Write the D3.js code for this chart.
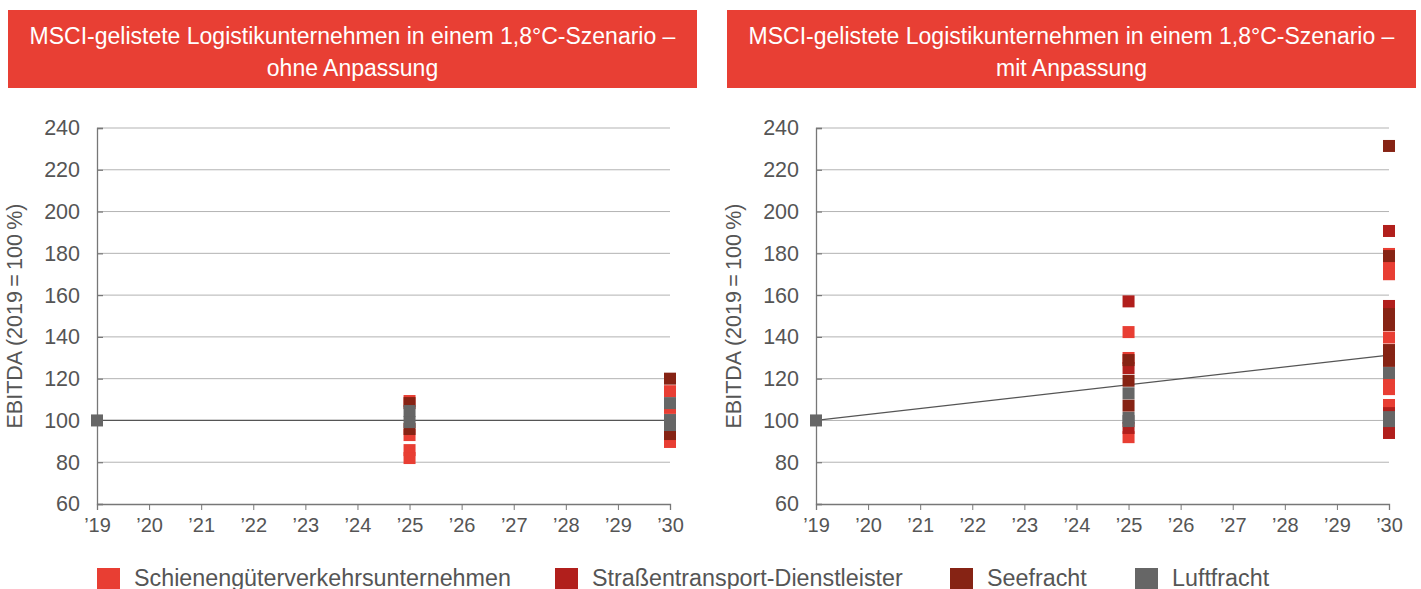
<!DOCTYPE html>
<html><head><meta charset="utf-8">
<script src="https://cdn.jsdelivr.net/npm/d3@7"></script>
<style>
html,body{margin:0;padding:0;background:#fff;}
svg{display:block;font-family:"Liberation Sans",Arial,sans-serif;}
</style></head>
<body><svg id="c" width="1421" height="589"></svg>
<script>
// ---- data ----
const years = [2019,2020,2021,2022,2023,2024,2025,2026,2027,2028,2029,2030];
const yTicks = [60,80,100,120,140,160,180,200,220,240];
const seriesNames = ["Schienengüterverkehrsunternehmen","Straßentransport-Dienstleister","Seefracht","Luftfracht"];
const seriesColors = ["#e83e33","#b11f1c","#862314","#666666"];
const titles = [
  ["MSCI-gelistete Logistikunternehmen in einem 1,8°C-Szenario –","ohne Anpassung"],
  ["MSCI-gelistete Logistikunternehmen in einem 1,8°C-Szenario –","mit Anpassung"]
];
const yAxisTitle = "EBITDA (2019\u2009=\u2009100\u2009%)";
const basePoint = [2019, 100];
// trend lines: values at 2019 and 2030
const trendOhne = [100, 100];
const trendMit = [100, 131.3];

// ohne Anpassung: values at 2025 and 2030 per series
const ohneSchiene2025 = [109.3, 93, 85.8, 82];
const ohneSchiene2030 = [114, 106, 89.7];
const ohneStrasse2025 = [];
const ohneStrasse2030 = [];
const ohneSee2025 = [108.3, 95.9];
const ohneSee2030 = [120, 93.5];
const ohneLuft2025 = [104.5, 99.2];
const ohneLuft2030 = [108.3, 100.2, 97.8];

// mit Anpassung
const mitSchiene2025 = [142.3, 129.9, 92];
const mitSchiene2030 = [179.7, 173, 170, 139.7, 117, 115, 107.4];
const mitStrasse2025 = [157, 125.1, 96.4];
const mitStrasse2030 = [190.7, 154.8, 103.5, 94];
const mitSee2025 = [128.9, 119, 107.1];
const mitSee2030 = [231.4, 178.7, 150.9, 145.7, 133.7, 128.5];
const mitLuft2025 = [113, 101.2, 99.7];
const mitLuft2030 = [122.7, 101.6, 99.7];

function pts(a25, a30){ return a25.map(v=>[2025,v]).concat(a30.map(v=>[2030,v])); }
const panels = [
  {title: titles[0], trend: trendOhne, series: [
    pts(ohneSchiene2025, ohneSchiene2030), pts(ohneStrasse2025, ohneStrasse2030),
    pts(ohneSee2025, ohneSee2030), pts(ohneLuft2025, ohneLuft2030)]},
  {title: titles[1], trend: trendMit, series: [
    pts(mitSchiene2025, mitSchiene2030), pts(mitStrasse2025, mitStrasse2030),
    pts(mitSee2025, mitSee2030), pts(mitLuft2025, mitLuft2030)]}
];

// ---- layout ----
const svg = d3.select("#c");
const panelLayout = [
  {boxX: 8, plotX0: 97, plotX1: 670},
  {boxX: 727, plotX0: 816, plotX1: 1389}
];
const boxW = 689, boxY = 10, boxH = 78;
const plotTop = 128, plotBottom = 504;
const mk = 12;
const textCol = "#555";
const ff = "Liberation Sans, Arial, sans-serif";

panels.forEach((p, i) => {
  const L = panelLayout[i];
  const g = svg.append("g");
  // title box
  g.append("rect").attr("x", L.boxX).attr("y", boxY).attr("width", boxW).attr("height", boxH).attr("fill", "#e83f34");
  p.title.forEach((t, k) => {
    g.append("text").attr("x", L.boxX + boxW/2).attr("y", 44 + k*32)
      .attr("text-anchor","middle").attr("fill","#fff").attr("font-size", 23).text(t);
  });
  const x = d3.scaleLinear().domain([2019,2030]).range([L.plotX0, L.plotX1]);
  const y = d3.scaleLinear().domain([60,240]).range([plotBottom, plotTop]);

  // gridlines
  g.append("g").selectAll("line").data(yTicks.filter(v=>v>60)).join("line")
    .attr("x1", L.plotX0).attr("x2", L.plotX1).attr("y1", d=>y(d)).attr("y2", d=>y(d))
    .attr("stroke", "#b3b3b3").attr("stroke-width", 1);

  // y axis (ticks point inward)
  const ya = g.append("g").attr("transform", `translate(${L.plotX0},0)`)
    .call(d3.axisLeft(y).tickValues(yTicks).tickSize(-6).tickPadding(17));
  ya.select(".domain").attr("stroke","#777").attr("stroke-width",1.3);
  ya.selectAll(".tick line").attr("stroke","#777").attr("stroke-width",1.2);
  ya.selectAll("text").attr("font-size", 21.5).attr("fill", textCol).attr("font-family", ff);

  // x axis
  const xa = g.append("g").attr("transform", `translate(0,${plotBottom})`)
    .call(d3.axisBottom(x).tickValues(years).tickSize(6).tickPadding(8)
      .tickFormat(d => "\u2019" + String(d).slice(2)));
  xa.select(".domain").attr("stroke","#777").attr("stroke-width",1.3);
  xa.selectAll(".tick line").attr("stroke","#777");
  xa.selectAll("text").attr("font-size", 20).attr("fill", textCol).attr("font-family", ff);

  // y axis title
  g.append("text").attr("transform", `translate(${L.plotX0 - 75},316) rotate(-90)`)
    .attr("text-anchor","middle").attr("font-size", 21.5).attr("fill", textCol).text(yAxisTitle);

  // trend line
  g.append("line").attr("x1", x(2019)).attr("x2", x(2030))
    .attr("y1", y(p.trend[0])).attr("y2", y(p.trend[1]))
    .attr("stroke", "#555").attr("stroke-width", 1.2);

  // markers
  p.series.forEach((s, si) => {
    g.append("g").selectAll("rect").data(s).join("rect")
      .attr("x", d => x(d[0]) - mk/2).attr("y", d => y(d[1]) - mk/2)
      .attr("width", mk).attr("height", mk).attr("fill", seriesColors[si]);
  });
  // base point
  g.append("rect").attr("x", x(basePoint[0]) - mk/2).attr("y", y(basePoint[1]) - mk/2)
    .attr("width", mk).attr("height", mk).attr("fill", "#666666");
});

// legend
const legendX = [97, 555, 950, 1135];
const lg = svg.append("g");
seriesNames.forEach((n, i) => {
  lg.append("rect").attr("x", legendX[i]).attr("y", 568).attr("width", 23).attr("height", 21).attr("fill", seriesColors[i]);
  lg.append("text").attr("x", legendX[i] + 37).attr("y", 586).attr("font-size", 23.3).attr("fill", textCol).text(n);
});
</script></body></html>
